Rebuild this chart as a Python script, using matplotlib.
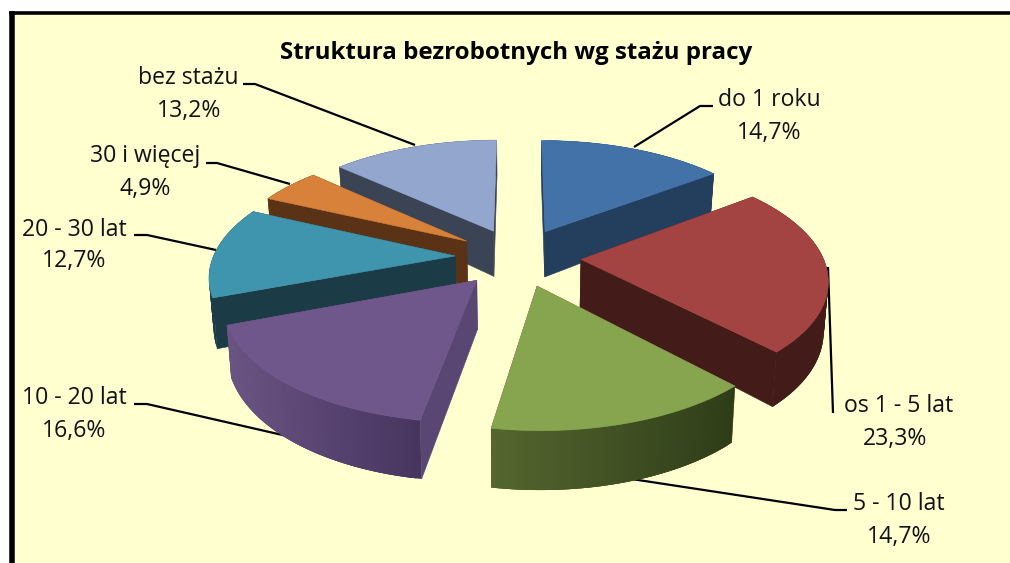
import numpy as np
import matplotlib
matplotlib.use("Agg")
import matplotlib.pyplot as plt
from matplotlib.patches import Polygon, Rectangle
from matplotlib.colors import to_rgb

title = "Struktura bezrobotnych wg stażu pracy"
categories = ["do 1 roku", "os 1 - 5 lat", "5 - 10 lat", "10 - 20 lat", "20 - 30 lat", "30 i więcej", "bez stażu"]
values = [14.7, 23.3, 14.7, 16.6, 12.7, 4.9, 13.2]

top_colors = ["#4372A8", "#A44442", "#87A44F", "#6F578C", "#4095AE", "#D7813B", "#92A6CE"]
cut_colors = ["#243F5E", "#431C1A", "#586A33", "#5A4672", "#1B3C47", "#5A3316", "#3A4455"]
rim_from = ["#243F5E", "#431C1A", "#55662F", "#6A5483", "#3A8AA2", "#C97A38", "#8497BC"]
rim_to = ["#243F5E", "#431C1A", "#2E3D18", "#47345F", "#1B3C47", "#5A3316", "#3A4455"]
draw_order = [6, 5, 0, 4, 1, 3, 2]

label_pos = [(769, 99.5, 769, 133.5), (899, 406.5, 895, 439.5), (899, 503.5, 899, 536.5), (74, 398.5, 74, 431.5),
             (74, 229.5, 74, 261.5), (145, 156.5, 145, 189.5), (188, 77.5, 189, 110.5)]
leaders = [[(713, 106), (700, 106), (634, 147)],
           [(828, 267), (833, 413)],
           [(625, 478), (835, 510), (847, 510)],
           [(134, 404), (147, 404), (300, 439)],
           [(134, 235), (147, 235), (216, 250)],
           [(206, 163), (217, 163), (290, 184)],
           [(243, 84), (255, 84), (415, 145)]]

CX, CY, A, B, K, E, R, D, TAPER = 518, 257, 252, 117, 0.16, 0.25, 0.96, 47.5, 0.985


def project(x, y):
    s = 1 / (1 - K * y)
    return CX + A * x * s, CY + B * y * s, y


plt.rcParams["font.family"] = ["Open Sans", "DejaVu Sans"]
fig = plt.figure(figsize=(10.10, 5.63), dpi=100, facecolor="white")
ax = fig.add_axes([0, 0, 1, 1])
ax.set_xlim(0, 1010)
ax.set_ylim(563, 0)
ax.axis("off")

ax.add_patch(Rectangle((11.5, 12.5), 1100, 600, facecolor="#FFFFD0", edgecolor="none", zorder=1))
ax.plot([11.5, 11.5], [563, 11], color="black", lw=4, solid_capstyle="butt", zorder=2)
ax.plot([9, 1010], [12.5, 12.5], color="black", lw=2.6, solid_capstyle="butt", zorder=2)

fracs = np.array(values) / sum(values)
edges = np.concatenate([[0], np.cumsum(fracs)]) * 2 * np.pi


def slice_geometry(i):
    a0, a1 = edges[i], edges[i + 1]
    mid = (a0 + a1) / 2
    ox, oy = E * np.sin(mid), -E * np.cos(mid)
    th = np.linspace(a0, a1, 60)
    rim = [project(ox + R * np.sin(t), oy - R * np.cos(t)) for t in th]
    return project(ox, oy), rim


def add_poly(pts, color, z, lw=0.4):
    ax.add_patch(Polygon(pts, closed=True, facecolor=color, edgecolor=color if lw else "none", lw=lw, zorder=z))


def down(p):
    return (CX + (p[0] - CX) * TAPER, p[1] + D * (1 + 0.21 * p[2]))


for z, i in enumerate(draw_order):
    base = 10 + z * 10
    apex, rim = slice_geometry(i)
    faces = []
    for end in (rim[0], rim[-1]):
        faces.append([apex[:2], end[:2], down(end), down(apex)])
    faces.sort(key=lambda f: np.mean([p[1] for p in f]))
    for f in faces:
        add_poly(f, cut_colors[i], base)
    c0, c1 = np.array(to_rgb(rim_from[i])), np.array(to_rgb(rim_to[i]))
    xs = np.array([p[0] for p in rim])
    span = max(xs.max() - xs.min(), 1)
    n = len(rim)
    # quads overlap the next ones so that no seams show between the shades
    for k in range(n - 1):
        a, b = rim[k], rim[min(k + 3, n - 1)]
        t = ((rim[k][0] + rim[k + 1][0]) / 2 - xs.min()) / span
        if i in (4, 5, 6):
            t = 1.0
        add_poly([a[:2], b[:2], down(b), down(a)], c0 * (1 - t) + c1 * t, base + 1, lw=0)
    add_poly([apex[:2]] + [p[:2] for p in rim], top_colors[i], base + 2)

for pts in leaders:
    ax.plot(*zip(*pts), color="black", lw=1.6, zorder=5, solid_capstyle="butt")

ax.text(516, 53, title, ha="center", va="center", fontsize=17.4, fontweight="bold", color="black", zorder=210)
for name, val, (x1, y1, x2, y2) in zip(categories, values, label_pos):
    ax.text(x1, y1, name, ha="center", va="center", fontsize=16.6, color="#111111", zorder=210)
    ax.text(x2, y2, f"{val:.1f}%".replace(".", ","), ha="center", va="center", fontsize=16.6, color="#111111", zorder=210)

fig.savefig("out.png", dpi=100)
